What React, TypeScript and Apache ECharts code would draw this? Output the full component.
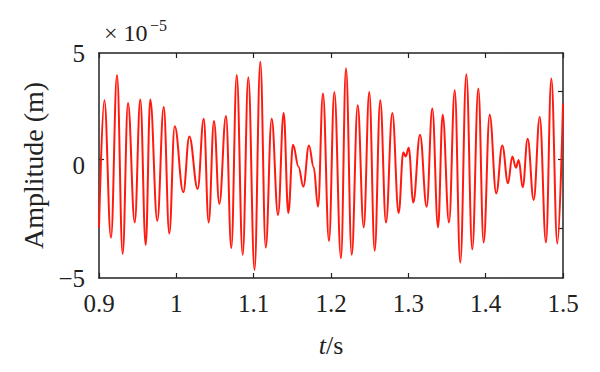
import React, { useEffect, useRef } from "react";
import * as echarts from "echarts";

const xTicks = [0.9, 1.0, 1.1, 1.2, 1.3, 1.4, 1.5];
const yLabels = [-5, 0, 5];
const times = [
  0.9, 0.9069, 0.9155, 0.9233, 0.9306, 0.9375, 0.9462, 0.9534, 0.9604, 0.9663,
  0.9754, 0.9837, 0.9909, 0.9979, 1.009, 1.0168, 1.0276, 1.0354, 1.0418, 1.0487,
  1.0556, 1.0642, 1.0711, 1.0781, 1.0858, 1.0931, 1.1011, 1.1086, 1.1156, 1.1233,
  1.1315, 1.1388, 1.1448, 1.1509, 1.158, 1.1642, 1.1715, 1.1776, 1.1832, 1.1896,
  1.1974, 1.2043, 1.2129, 1.2194, 1.2268, 1.2345, 1.2423, 1.2495, 1.2565, 1.2637,
  1.2711, 1.2793, 1.2875, 1.2935, 1.2966, 1.3005, 1.3064, 1.3151, 1.3237, 1.331,
  1.3384, 1.3444, 1.3526, 1.36, 1.3672, 1.375, 1.3827, 1.3905, 1.3974, 1.4052,
  1.4137, 1.4215, 1.4289, 1.4344, 1.4392, 1.4427, 1.4479, 1.4543, 1.4621, 1.4699,
  1.478, 1.4849, 1.4927, 1.5,
];
const amplitude = [
  -2.77, 2.9, -3.21, 4.02, -3.93, 2.78, -2.53, 2.93, -3.53, 2.93,
  -2.46, 2.6, -3.02, 1.74, -1.19, 1.29, -1.04, 2.08, -2.53, 1.98,
  -1.71, 2.2, -3.67, 4.02, -3.97, 3.92, -4.64, 4.61, -3.65, 2.08,
  -2.2, 2.33, -2.11, 0.92, -0.05, -0.94, 0.89, -0.08, -1.83, 3.2,
  -3.35, 3.27, -4.12, 4.32, -3.97, 2.68, -2.75, 3.27, -3.79, 2.9,
  -2.53, 2.33, -2.11, 0.59, 0.4, 0.79, -1.64, 1.37, -1.83, 2.53,
  -2.75, 2.26, -2.53, 3.35, -4.32, 4.06, -3.72, 3.42, -3.42, 2.26,
  -1.24, 0.89, -0.79, 0.4, -0.1, 0.25, -0.97, 1.19, -1.53, 2.16,
  -3.42, 3.87, -3.47, 2.75,
];
const leftTickValues = [0.3];
const rightTickValues = [-2.77, 0.27, 3.3];

const FONT = "Liberation Serif";
const AXIS_COLOR = "#222";

export default function App() {
  const ref = useRef<HTMLDivElement>(null);
  useEffect(() => {
    if (!ref.current) return;
    const chart = echarts.init(ref.current, undefined, { renderer: "svg" });
    const data = times.map((t, i) => [t, amplitude[i]]);
    const axisLine = { show: true, onZero: false, lineStyle: { color: AXIS_COLOR, width: 1.5 } };
    const tickStyle = { color: AXIS_COLOR, width: 1.2 };
    chart.setOption({
      animation: false,
      backgroundColor: "#fff",
      title: [
        {
          text: "\u00d7 10",
          left: 104,
          top: 21,
          padding: 0,
          textStyle: { fontSize: 24, fontWeight: "normal", fontFamily: FONT, color: "#222" },
        },
        {
          text: "\u22125",
          left: 150,
          top: 17,
          padding: 0,
          textStyle: { fontSize: 16, fontWeight: "normal", fontFamily: FONT, color: "#222" },
        },
      ],
      grid: { left: 99, right: 37, top: 53, bottom: 94 },
      xAxis: [
        {
          type: "value",
          min: 0.9,
          max: 1.5,
          interval: 0.1,
          position: "bottom",
          axisLine,
          splitLine: { show: false },
          axisTick: { show: true, inside: true, length: 5, lineStyle: tickStyle },
          axisLabel: {
            show: true,
            margin: 13,
            color: "#222",
            fontFamily: FONT,
            fontSize: 25,
            formatter: (v: number) => String(parseFloat(v.toFixed(1))),
            customValues: xTicks,
          },
          name: "{i|t}/s",
          nameLocation: "middle",
          nameGap: 54,
          nameTextStyle: {
            color: "#222",
            fontFamily: FONT,
            fontSize: 26,
            rich: { i: { fontStyle: "italic", fontFamily: FONT, fontSize: 26, color: "#222" } },
          },
        },
        {
          type: "value",
          min: 0.9,
          max: 1.5,
          interval: 0.1,
          position: "top",
          axisLine,
          splitLine: { show: false },
          axisTick: { show: true, inside: true, length: 5, lineStyle: tickStyle },
          axisLabel: { show: false },
        },
      ],
      yAxis: [
        {
          type: "value",
          min: -5,
          max: 5,
          interval: 5,
          position: "left",
          axisLine,
          splitLine: { show: false },
          axisTick: {
            show: true,
            inside: true,
            length: 5,
            customValues: leftTickValues,
            lineStyle: tickStyle,
          },
          axisLabel: {
            show: true,
            margin: 14,
            color: "#222",
            fontFamily: FONT,
            fontSize: 25,
            customValues: yLabels,
            formatter: (v: number) => (v < 0 ? "\u2212" + Math.abs(v) : String(v)),
          },
          name: "Amplitude (m)",
          nameLocation: "middle",
          nameGap: 52,
          nameTextStyle: { color: "#222", fontFamily: FONT, fontSize: 28 },
        },
        {
          type: "value",
          min: -5,
          max: 5,
          interval: 5,
          position: "right",
          axisLine,
          splitLine: { show: false },
          axisTick: {
            show: true,
            inside: true,
            length: 5,
            customValues: rightTickValues,
            lineStyle: tickStyle,
          },
          axisLabel: { show: false },
        },
      ],
      series: [
        {
          type: "line",
          xAxisIndex: 0,
          yAxisIndex: 0,
          data,
          showSymbol: false,
          smooth: 0.4,
          smoothMonotone: "x",
          lineStyle: { color: "#ff1a10", width: 2 },
          clip: true,
        },
      ],
    });
    return () => chart.dispose();
  }, []);
  return (
    <div
      ref={ref}
      style={{ position: "fixed", left: 0, top: 0, width: 600, height: 372, background: "#fff" }}
    />
  );
}
